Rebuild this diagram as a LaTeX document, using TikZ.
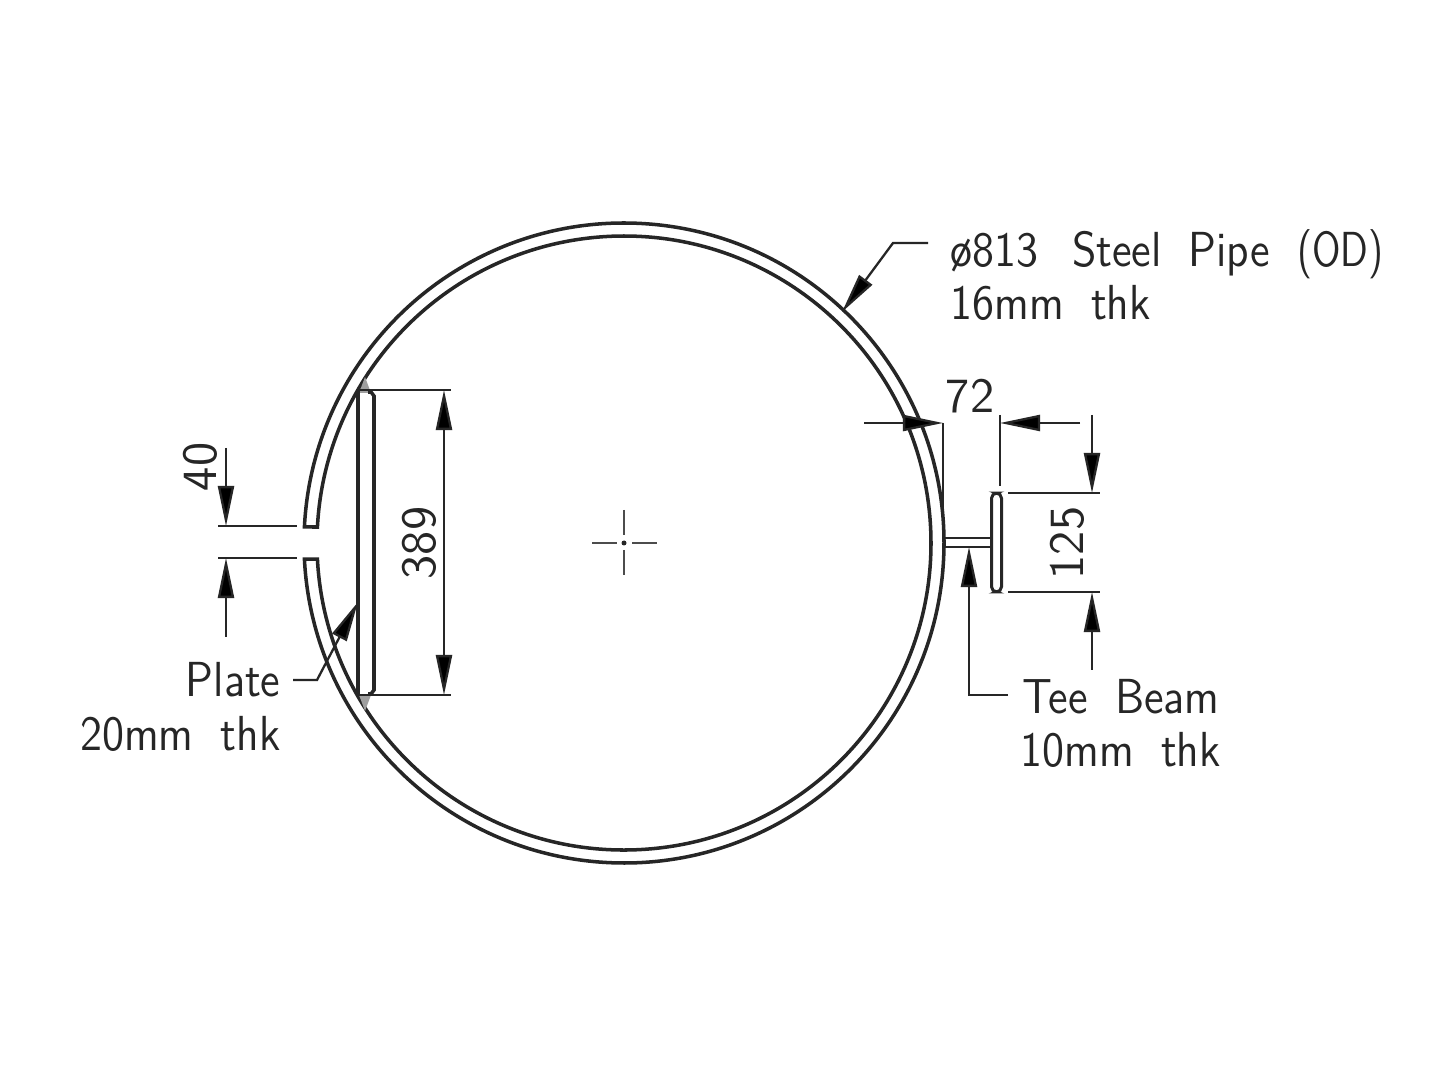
\documentclass[tikz,border=0pt]{standalone}
\usepackage{amsmath}
\usepackage{amssymb}
\usetikzlibrary{arrows.meta, calc, positioning}

\definecolor{inkline}{HTML}{262626}
\newcommand{\wordgap}{\hspace{8.5pt}}
\tikzset{
  pipeline/.style={draw=inkline, line width=1pt},
  teeline/.style={draw=inkline, line width=0.85pt},
  dimline/.style={draw=inkline, line width=0.65pt},
  markline/.style={draw=gray!60!black, line width=0.75pt},
  dimtext/.style={font=\fontsize{14}{16}\sffamily, text=inkline, inner sep=0pt},
  labeltext/.style={dimtext, xscale=0.91, transform shape},
  greytip/.style={fill=gray!75, draw=none},
}

\begin{document}
\begin{tikzpicture}[x=0.01cm, y=-0.01cm, >={Triangle[length=4mm, width=1.6mm, fill=black]}]
        \useasboundingbox (0, 0) rectangle (1440, 1080);
        \fill[white] (0, 0) rectangle (1440, 1080);

        % pipe wall with the gap on the left
        \draw[pipeline] (624, 543) ++(182.87:320) arc[start angle=182.87, end angle=537.13, radius=320]
            -- ++(13, 0) arc[start angle=537.01, end angle=182.99, radius=307] -- cycle;

        % centre mark
        \draw[markline] (592, 543) -- (617, 543);
        \draw[markline] (632, 543) -- (657, 543);
        \draw[markline] (624, 510) -- (624, 535);
        \draw[markline] (624, 550) -- (624, 575);
        \fill[inkline] (624, 543) circle (2.5);

        % plate
        \fill[greytip] (365, 377) -- (371, 393) -- (359, 393) -- cycle;
        \fill[greytip] (365, 711) -- (371, 695) -- (359, 695) -- cycle;
        \draw[pipeline] (358, 390) -- (358, 696);
        \draw[pipeline] (368, 392) -- (371, 392) -- (374, 396) -- (374, 690) -- (371, 694) -- (368, 694);

        % dimension 389
        \draw[dimline] (360, 390) -- (451, 390);
        \draw[dimline] (360, 695) -- (451, 695);
        \draw[dimline, <->] (444, 390) -- (444, 695);
        \node[rotate=90, dimtext] (platedim) at (419, 543) {389};

        % dimension 40
        \draw[dimline] (218, 526) -- (297, 526);
        \draw[dimline] (218, 558) -- (297, 558);
        \draw[dimline, ->] (226, 448) -- (226, 526);
        \draw[dimline, ->] (226, 637) -- (226, 558);
        \node[rotate=90, dimtext] (gapdim) at (200, 467) {40};

        % plate label
        \coordinate (platebend) at (317, 680);
        \coordinate (platefoot) at (293, 680);
        \node[labeltext, anchor=base east] (platetext) at (281, 697) {Plate};
        \node[labeltext, anchor=base east] (platethk) at (281, 750) {20mm\wordgap thk};
        \draw[dimline, ->] (platefoot) -- (platebend) -- (358, 602);

        % pipe label
        \coordinate (pipebend) at (893, 243);
        \coordinate (pipefoot) at (928, 243);
        \node[labeltext, anchor=base west] (pipetext) at (950, 267) {ø813\hspace{10.5pt}Steel\wordgap Pipe\wordgap\scalebox{0.88}[1]{(OD)}};
        \node[labeltext, anchor=base west] (pipethk) at (950, 320) {16mm\wordgap thk};
        \draw[dimline, ->] (pipefoot) -- (pipebend) -- (842, 312);

        % tee beam
        \draw[teeline, rounded corners=1.5pt] (991.5, 493) rectangle (1001.5, 592);
        \draw[teeline] (943, 538) -- (991.5, 538);
        \draw[teeline] (943, 547) -- (991.5, 547);

        % dimension 72
        \draw[dimline] (943, 423) -- (943, 530);
        \draw[dimline] (1000, 415) -- (1000, 486);
        \draw[dimline, ->] (864, 423) -- (943, 423);
        \draw[dimline, ->] (1080, 423) -- (1000, 423);
        \node[dimtext] (offsetdim) at (970, 396) {72};

        % dimension 125
        \draw[dimline] (1008, 493) -- (1100, 493);
        \draw[dimline] (1008, 592) -- (1100, 592);
        \draw[dimline, ->] (1092, 415) -- (1092, 493);
        \draw[dimline, ->] (1092, 670) -- (1092, 592);
        \node[rotate=90, dimtext] (teedim) at (1067, 543) {125};

        % tee label
        \coordinate (teebend) at (969, 695);
        \coordinate (teefoot) at (1008, 695);
        \node[labeltext, anchor=base west] (teetext) at (1022, 713) {Tee\wordgap Beam};
        \node[labeltext, anchor=base west] (teethk) at (1020, 766) {10mm\wordgap thk};
        \draw[dimline, ->] (teefoot) -- (teebend) -- (969, 547);

\end{tikzpicture}
\end{document}
